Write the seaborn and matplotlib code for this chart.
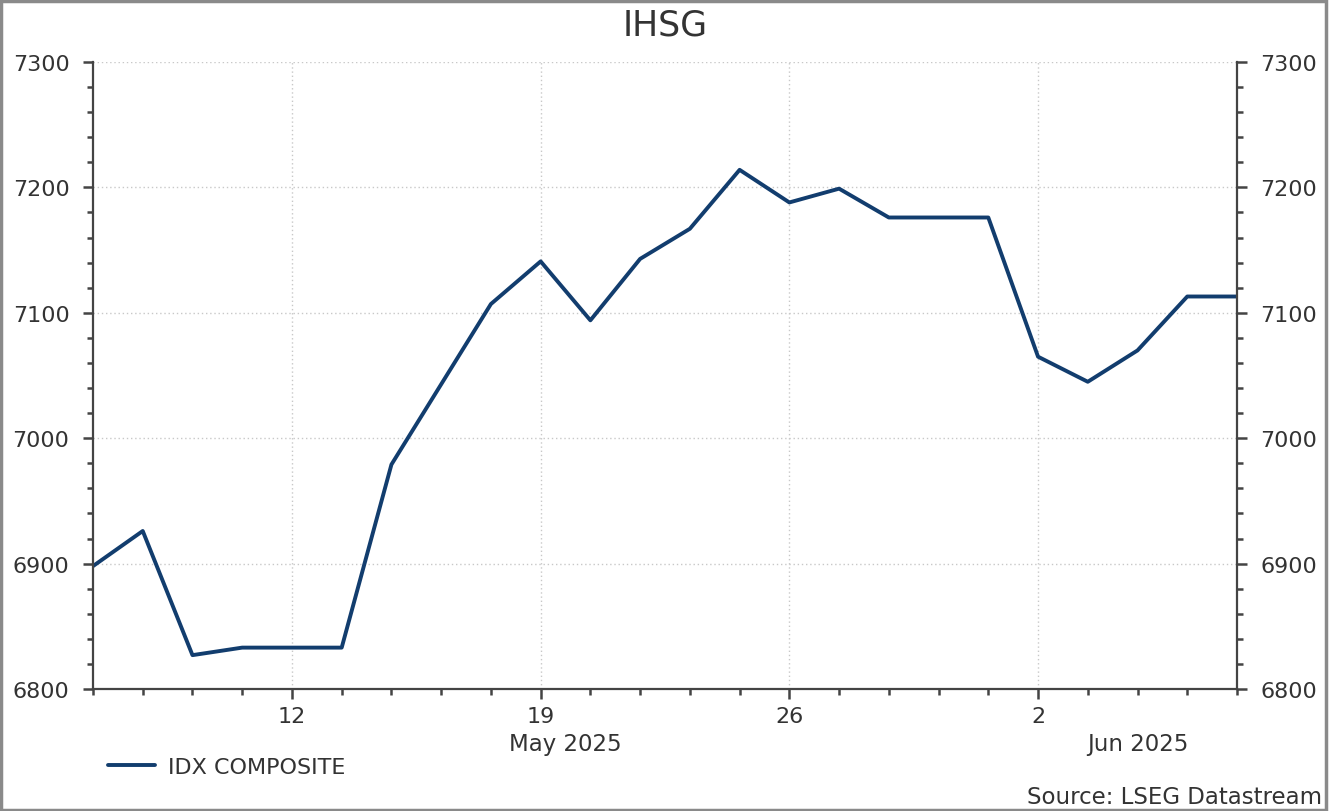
import matplotlib
matplotlib.use("Agg")
import matplotlib.pyplot as plt
import seaborn as sns
import pandas as pd
from matplotlib.ticker import FixedLocator, MultipleLocator, NullFormatter
from matplotlib.patches import Rectangle

dates = ["2025-05-06", "2025-05-07", "2025-05-08", "2025-05-09", "2025-05-12",
         "2025-05-13", "2025-05-14", "2025-05-15", "2025-05-16", "2025-05-19",
         "2025-05-20", "2025-05-21", "2025-05-22", "2025-05-23", "2025-05-26",
         "2025-05-27", "2025-05-28", "2025-05-29", "2025-05-30", "2025-06-02",
         "2025-06-03", "2025-06-04", "2025-06-05", "2025-06-06"]
values = [6898, 6926, 6827, 6833, 6833, 6833, 6979, 7043, 7107, 7141,
          7094, 7143, 7167, 7214, 7188, 7199, 7176, 7176, 7176, 7065,
          7045, 7070, 7113, 7113]
series_name = "IDX COMPOSITE"
title = "IHSG"
source = "Source: LSEG Datastream"
y_ticks = [6800, 6900, 7000, 7100, 7200, 7300]

sns.set_theme(style="white")
plt.rcParams['font.family'] = ['DejaVu Sans']

df = pd.DataFrame({"date": pd.to_datetime(dates), "value": values})
df["pos"] = range(len(df))

txt = "#333333"
spine_c = "#444444"
line_c = "#123d6e"

fig = plt.figure(figsize=(13.29, 8.12), dpi=100)
ax = fig.add_axes([93/1329, 1-690/812, (1237-93)/1329, (690-63)/812])

sns.lineplot(data=df, x="pos", y="value", ax=ax, color=line_c, linewidth=2.8,
             label=series_name, legend=False)

ax.set_xlim(0, len(df) - 1)
ax.set_ylim(6800, 7300)

# x ticks: majors at Mondays, minors every business day
mondays = [i for i, d in enumerate(df["date"]) if d.weekday() == 0]
ax.xaxis.set_major_locator(FixedLocator(mondays))
ax.set_xticklabels([str(df["date"][i].day) for i in mondays])
ax.xaxis.set_minor_locator(FixedLocator(list(range(len(df)))))
ax.xaxis.set_minor_formatter(NullFormatter())

ax.yaxis.set_major_locator(FixedLocator(y_ticks))
ax.yaxis.set_minor_locator(MultipleLocator(20))
ax.yaxis.set_minor_formatter(NullFormatter())

ax.tick_params(axis="x", which="major", direction="out", length=7, width=1.8,
               color=spine_c, labelsize=16, labelcolor=txt, pad=5, bottom=True)
ax.tick_params(axis="x", which="minor", direction="out", length=4, width=1.8,
               color=spine_c, bottom=True)
ax.tick_params(axis="y", which="major", direction="out", length=7, width=1.8,
               color=spine_c, labelsize=16, labelcolor=txt, pad=10,
               left=True, right=True, labelleft=True, labelright=True)
ax.tick_params(axis="y", which="minor", direction="out", length=4, width=1.8,
               color=spine_c, left=True, right=True)

for s in ["left", "bottom", "right"]:
    ax.spines[s].set_visible(True)
    ax.spines[s].set_color(spine_c)
    ax.spines[s].set_linewidth(1.6)
ax.spines["top"].set_visible(False)

ax.grid(True, which="major", axis="both", color="#c8c8c8", linestyle=(0, (1, 2)),
        linewidth=1.0)
ax.set_axisbelow(True)
ax.set_xlabel("")
ax.set_ylabel("")

# month labels
ax.text(9.5, -0.087, "May 2025", transform=ax.get_xaxis_transform(),
        ha="center", va="center", fontsize=16.5, color=txt)
ax.text(21.0, -0.087, "Jun 2025", transform=ax.get_xaxis_transform(),
        ha="center", va="center", fontsize=16.5, color=txt)

fig.text(665/1329, 1-25/812, title, ha="center", va="center", fontsize=25, color=txt)

# legend
leg = fig.legend(handles=ax.get_lines()[:1], labels=[series_name],
                 loc="center left", bbox_to_anchor=(88/1329, 1-768/812),
                 frameon=False, fontsize=16, handlelength=2.1, handletextpad=0.6,
                 labelcolor=txt)

fig.text(1322/1329, 1-798/812, source, ha="right", va="center", fontsize=16.5, color=txt)

fig.patches.append(Rectangle((0.001, 0.001), 0.997, 0.997, transform=fig.transFigure,
                             fill=False, edgecolor="#8a8a8a", linewidth=2.5))

fig.savefig("out.png", dpi=100)
